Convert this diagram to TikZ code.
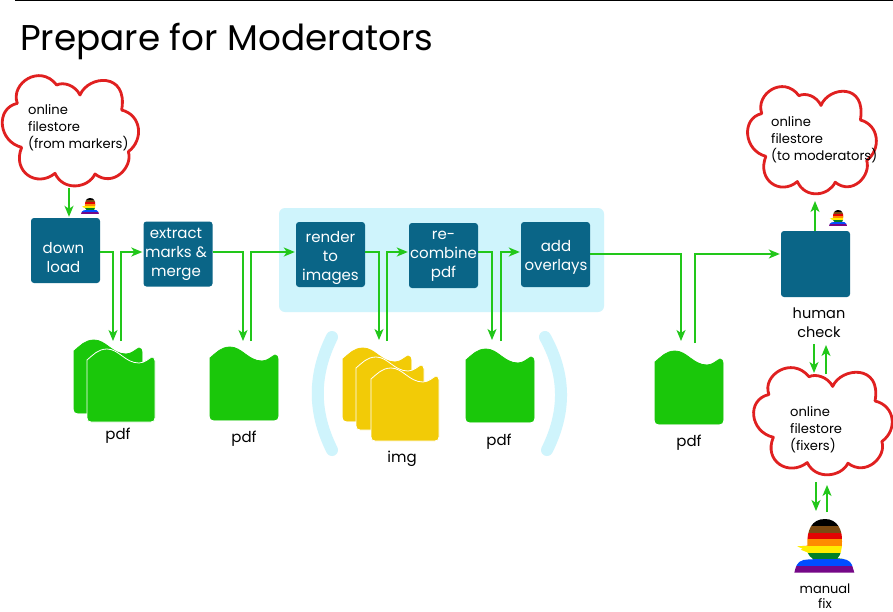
\documentclass[tikz,border=0pt]{standalone}
\usepackage{fontspec}
\setmainfont{Poppins}
\usetikzlibrary{arrows.meta}
\definecolor{boxblue}{HTML}{0A6587}
\definecolor{panelcyan}{HTML}{CFF4FC}
\definecolor{flowgreen}{HTML}{22C71A}
\definecolor{docgreen}{HTML}{1AC70A}
\definecolor{docyellow}{HTML}{F2CB07}
\definecolor{cloudred}{HTML}{E02020}
\definecolor{stripebrown}{HTML}{7B4A12}
\definecolor{stripered}{HTML}{E40303}
\definecolor{stripeorange}{HTML}{FF8C00}
\definecolor{stripeyellow}{HTML}{FFED00}
\definecolor{stripegreen}{HTML}{008026}
\definecolor{stripeblue}{HTML}{004DFF}
\definecolor{stripepurple}{HTML}{750787}
\newcommand{\cloudpath}{(52,130) .. controls (30,70) and (120,10) .. (170,75)
 .. controls (190,65) and (225,75) .. (240,105)
 .. controls (265,45) and (385,35) .. (365,150)
 .. controls (425,165) and (432,240) .. (385,275)
 .. controls (400,320) and (340,385) .. (285,342)
 .. controls (265,385) and (190,395) .. (165,340)
 .. controls (110,385) and (35,335) .. (65,262)
 .. controls (-5,245) and (-15,145) .. (52,130) -- cycle}
% x0,y0,sx,sy
\newcommand{\cloudshape}[4]{\begin{scope}[shift={(#1,#2)},xscale=#3,yscale=#4]
 \draw[cloudline] \cloudpath;\end{scope}}
% x,y (top-left), colour, outline
\newcommand{\wavedoc}[4]{\begin{scope}[shift={(#1,#2)}]
 \path[fill=#3,draw=#4,line width=0.8pt]
 (0,11) .. controls (6,6) and (11,0) .. (20,0)
 .. controls (32,0) and (38,14) .. (52,14)
 .. controls (58,14) and (62,9) .. (65,8)
 .. controls (67,8) and (68,10) .. (68,12)
 -- (68,69) .. controls (68,71.5) and (66.5,73) .. (64,73)
 -- (4,73) .. controls (1.5,73) and (0,71.5) .. (0,69) -- cycle;
 \end{scope}}
% x,y of origin, scale
\newcommand{\rainbowperson}[3]{\begin{scope}[shift={(#1,#2)},scale=#3]
 \clip (133,278) .. controls (137,262) and (140,245) .. (160,240)
 .. controls (170,238) and (182,238) .. (190,238)
 .. controls (182,232) and (176,226) .. (172,217)
 -- (152,209) -- (158,206) -- (141,199) -- (172,197)
 .. controls (170,150) and (185,117) .. (225,117)
 .. controls (262,117) and (278,150) .. (276,185)
 .. controls (276,210) and (272,226) .. (262,235)
 .. controls (285,236) and (300,240) .. (306,255)
 -- (313,278) -- cycle;
 \fill[black] (130,115) rectangle (320,137);
 \fill[stripebrown] (130,137) rectangle (320,158);
 \fill[stripered] (130,158) rectangle (320,178);
 \fill[stripeorange] (130,178) rectangle (320,198);
 \fill[stripeyellow] (130,198) rectangle (320,218);
 \fill[stripegreen] (130,218) rectangle (320,238);
 \fill[stripeblue] (130,238) rectangle (320,258);
 \fill[stripepurple] (130,258) rectangle (320,280);
 \end{scope}}
\tikzset{
 cloudline/.style={draw=cloudred,fill=white,line width=2.8pt,line join=round},
 stepbox/.style={draw=none,fill=boxblue,rounded corners=3pt,minimum width=69pt,minimum height=65pt,inner sep=0pt},
 boxtxt/.style={inner sep=0pt,text=white,align=center,font=\fontsize{15}{19}\selectfont},
 flow/.style={draw=flowgreen,line width=1.5pt,-{Stealth[length=11pt,width=9pt,inset=3pt]},shorten >=1pt},
 lbl/.style={inner sep=0pt,align=center,text=black,font=\fontsize{15}{19}\selectfont},
 cloudtxt/.style={inner sep=0pt,align=left,anchor=west,text=black,font=\fontsize{13.1}{17}\selectfont},
 paren/.style={draw=panelcyan,line width=12pt,line cap=round},
}
\begin{document}
\begin{tikzpicture}[x=1pt,y=-1pt]
\useasboundingbox (0,0) rectangle (893,611);
\fill[white] (0,0) rectangle (893,611);
\coordinate (rulel) at (15,0.5); \coordinate (ruler) at (893,0.5);
\draw[black,line width=1pt] (rulel) -- (ruler);
\node[anchor=base west,inner sep=0pt,font=\fontsize{35.8}{40}\selectfont] (title) at (20,50) {Prepare for Moderators};

% panel and brackets
\fill[panelcyan,rounded corners=6pt] (279,208) rectangle (604,312);
\draw[paren] (332,337) .. controls (313,375) and (313,412) .. (332,450);
\draw[paren] (545,337) .. controls (566,375) and (566,412) .. (547,450);

% clouds
\cloudshape{0}{60}{0.3333}{0.3333}
\cloudshape{745.4}{71.4}{0.315}{0.324}
\cloudshape{751.3}{352.4}{0.339}{0.324}
\node[cloudtxt] (c1) at (28,128) {online\\filestore\\(from markers)};
\node[cloudtxt] (c2) at (771,140) {online\\filestore\\(to moderators)};
\node[cloudtxt] (c3) at (790,429.5) {online\\filestore\\(fixers)};

% documents
\wavedoc{74}{340}{docgreen}{docgreen}
\wavedoc{87}{349}{docgreen}{white}
\wavedoc{210}{347}{docgreen}{docgreen}
\wavedoc{343}{348}{docyellow}{docyellow}
\wavedoc{356}{357}{docyellow}{white}
\wavedoc{371}{368}{docyellow}{white}
\wavedoc{466}{349}{docgreen}{docgreen}
\wavedoc{655}{351}{docgreen}{docgreen}

% step boxes
\node[stepbox] (down) at (65.5,250.5) {};
\node[stepbox] (extract) at (178,254) {};
\node[stepbox] (render) at (330.5,254.5) {};
\node[stepbox] (recomb) at (443.5,255.5) {};
\node[stepbox] (over) at (555.5,254.5) {};
\node[stepbox,minimum height=66pt] (human) at (815.5,264) {};
\node[boxtxt] (downtxt) at (63.5,257.5) {down\\load};
\node[boxtxt] (extracttxt) at (176,254) {extract\\marks \&\\merge};
\node[boxtxt] (rendertxt) at (330.5,258) {render\\to\\images};
\node[boxtxt] (recombtxt) at (443.5,256.5) {re-\\combine\\pdf};
\node[boxtxt] (overtxt) at (556,257.5) {add\\overlays};

% labels
\node[lbl] (l1) at (118,436) {pdf};
\node[lbl] (l2) at (244,439) {pdf};
\node[lbl] (l3) at (402,459) {img};
\node[lbl] (l4) at (499,442) {pdf};
\node[lbl] (l5) at (689,443) {pdf};
\node[lbl,font=\fontsize{14.5}{19}\selectfont] (l6) at (819,322.5) {human\\check};
\node[lbl,font=\fontsize{13}{15}\selectfont] (l7) at (825,596.5) {manual\\fix};

% people
\rainbowperson{67.7}{186.3}{0.1}
\rainbowperson{815.7}{198.3}{0.1}
\rainbowperson{750}{480}{0.3333}

% helper coordinates
\coordinate (rowa) at (0,252);
\coordinate (rowb) at (0,254);
\coordinate (c1out) at (69,188);
\coordinate (c2in) at (815,200);
\coordinate (d1in) at (113,342); \coordinate (d1out) at (121,341);
\coordinate (d2in) at (243,342); \coordinate (d2out) at (251,341);
\coordinate (d3in) at (379,341); \coordinate (d3out) at (387,341);
\coordinate (d4in) at (492,341); \coordinate (d4out) at (501,341);
\coordinate (d5in) at (681,342); \coordinate (d5out) at (695,343);
\coordinate (h1) at (814,344); \coordinate (h2) at (814,374);
\coordinate (h3) at (826,374); \coordinate (h4) at (826,344);
\coordinate (m1) at (816,482); \coordinate (m2) at (816,512);
\coordinate (m3) at (827,512); \coordinate (m4) at (827,484);

% connectors
\draw[flow] (c1out) -- (c1out |- down.north);
\draw[flow] (down.east |- rowa) -| (d1in);
\draw[flow] (d1out) |- (extract.west |- rowa);
\draw[flow] (extract.east |- rowa) -| (d2in);
\draw[flow] (d2out) |- (render.west |- rowa);
\draw[flow] (render.east |- rowa) -| (d3in);
\draw[flow] (d3out) |- (recomb.west |- rowa);
\draw[flow] (recomb.east |- rowa) -| (d4in);
\draw[flow] (d4out) |- (over.west |- rowa);
\draw[flow] (over.east |- rowb) -| (d5in);
\draw[flow] (d5out) |- (human.west |- rowb);
\draw[flow] (c2in |- human.north) -- (c2in);
\draw[flow] (h1) -- (h2);
\draw[flow] (h3) -- (h4);
\draw[flow] (m1) -- (m2);
\draw[flow] (m3) -- (m4);
\end{tikzpicture}
\end{document}
